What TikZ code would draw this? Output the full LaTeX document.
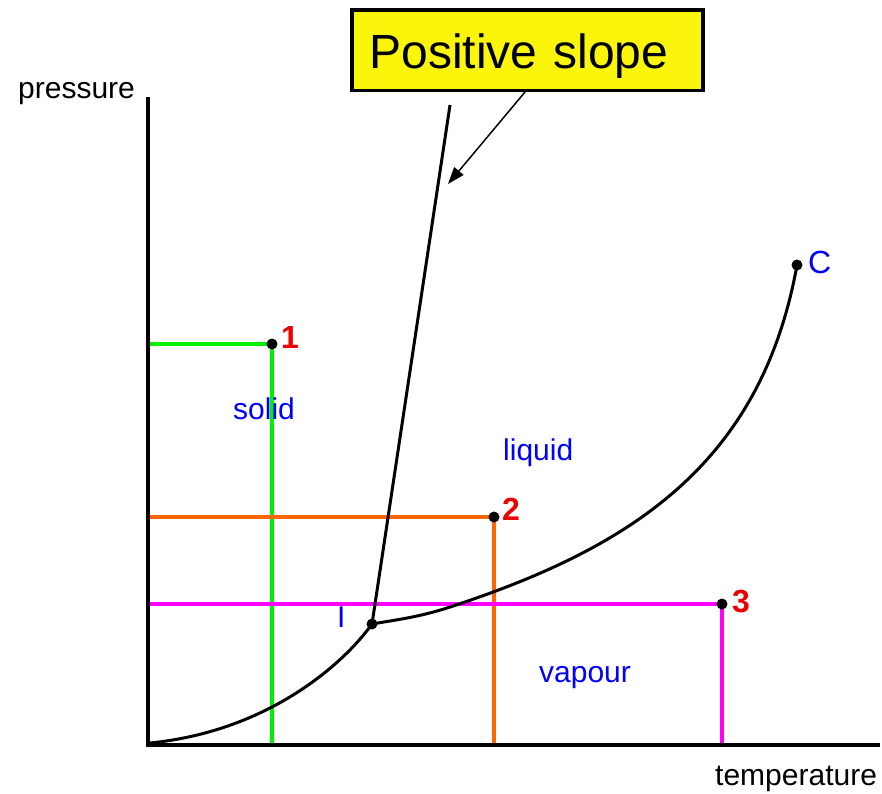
\documentclass[tikz,border=0pt]{standalone}
\usepackage{fontspec}
\setmainfont{Liberation Sans}
\usetikzlibrary{arrows.meta}
\definecolor{myyellow}{RGB}{250,245,10}
\definecolor{mygreen}{RGB}{0,240,0}
\definecolor{myorange}{RGB}{255,102,0}
\definecolor{mymagenta}{RGB}{255,0,255}
\definecolor{myblue}{RGB}{0,0,255}
\definecolor{myred}{RGB}{235,0,0}
\begin{document}
\begin{tikzpicture}[x=1pt,y=-1pt,
  axis/.style={line width=3.4pt},
  curve/.style={line width=3pt, line join=round},
  guide/.style={line width=3.2pt},
  dot/.style={circle, fill=black, inner sep=0pt, minimum size=11pt},
  lbl/.style={anchor=base west, inner sep=0pt, font=\fontsize{30}{34}\selectfont},
  region/.style={lbl, text=myblue},
  num/.style={anchor=base west, inner sep=0pt, text=myred, font=\fontsize{32}{36}\selectfont\bfseries},
  callout/.style={draw, line width=3.5pt, fill=myyellow, text width=316pt, align=left,
    inner xsep=17.5pt, inner ysep=0pt, minimum height=80.5pt, text height=36pt, text depth=0pt,
    font=\fontsize{48}{52}\selectfont}
]
\useasboundingbox (0,0) rectangle (882,793);

% key coordinates
\coordinate (O) at (148,745);
\coordinate (ytop) at (148,97);
\coordinate (xend) at (880,745);
\coordinate (S0) at (150,743);
\coordinate (T) at (372,624);
\coordinate (V1) at (450,607);
\coordinate (M) at (450,105);
\coordinate (Cp) at (797,265);
\coordinate (P1) at (272,344);
\coordinate (P2) at (494,517);
\coordinate (P3) at (722,604);
\coordinate (g1) at (148,344);
\coordinate (g2) at (272,745);
\coordinate (o1) at (148,517);
\coordinate (o2) at (494,745);
\coordinate (m1) at (150,604);
\coordinate (m2) at (722,745);

% guide lines
\draw[guide, mygreen] (g1) -- (P1) -- (g2);
\draw[guide, myorange] (o1) -- (P2) -- (o2);
\draw[guide, mymagenta] (m1) -- (P3) -- (m2);

% axes
\draw[axis] (ytop) -- (O) -- (xend);

% phase boundaries
\draw[curve] (T) -- (M);
\draw[curve] (S0) .. controls (270,731) and (345,662) .. (T);
\draw[curve] (T) .. controls (395,620) and (420,617) .. (V1)
             .. controls (630,548) and (761,465) .. (Cp);

% dots
\node[dot] (d1) at (P1) {};
\node[dot] (d2) at (P2) {};
\node[dot] (d3) at (P3) {};
\node[dot] (dT) at (T) {};
\node[dot] (dC) at (Cp) {};

% labels
\node[lbl] (pres) at (18,98) {pressure};
\node[lbl] (temp) at (715,785) {temperature};
\node[region] (solid) at (233,419) {solid};
\node[region] (liquid) at (503,460) {liquid};
\node[region] (vapour) at (539,682) {vapour};
\node[region] (tlab) at (337,627) {I};
\node[num] (n1) at (281,348) {1};
\node[num] (n2) at (502,520) {2};
\node[num] (n3) at (732,612) {3};
\node[anchor=base west, inner sep=0pt, text=myblue, font=\fontsize{32}{36}\selectfont] (clab) at (808,273) {C};

% callout
\node[callout] (box) at (527.5,50) {Positive slope};
\coordinate (atip) at (448,184);
\draw[line width=1.5pt, -{Triangle[length=17pt,width=12pt]}] ([xshift=-2.5pt]box.south) -- (atip);
\end{tikzpicture}
\end{document}
